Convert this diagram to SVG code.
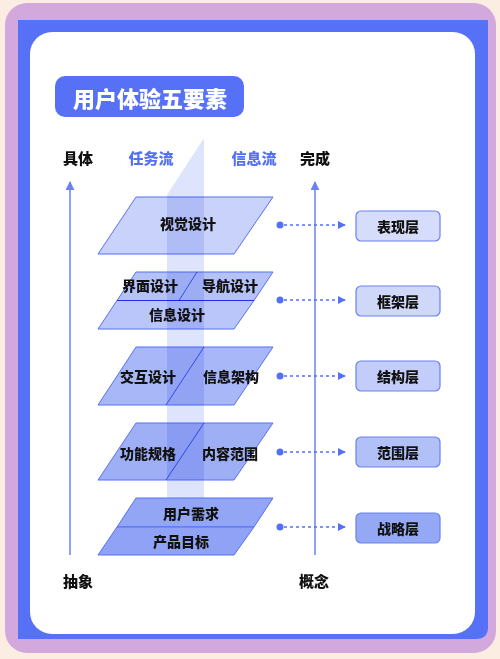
<svg xmlns="http://www.w3.org/2000/svg" width="500" height="659" viewBox="0 0 500 659">
<defs>
<style>
.t{font-family:"Noto Sans CJK SC","Noto Sans",sans-serif;font-weight:900;fill:#111;text-anchor:middle;dominant-baseline:central}
.lbl{font-size:15px}
.blue{fill:#5470F5}
.pg{stroke:#5470F5;stroke-width:1;mix-blend-mode:multiply}
.box{stroke:#6A82F0;stroke-width:1.2}
.ax{stroke:#6A82F0;stroke-width:1.5;fill:none}
.dash{stroke:#5470F5;stroke-width:1.3;stroke-dasharray:3 3;fill:none}
.dot{fill:#5470F5}
</style>
<marker id="ah" viewBox="0 0 10 10" refX="9" refY="5" markerWidth="8" markerHeight="8" markerUnits="userSpaceOnUse" orient="auto">
<path d="M0,0 L10,5 L0,10 Z" fill="#5470F5"/>
</marker>
<marker id="axh" viewBox="0 0 10 10" refX="9" refY="5" markerWidth="9" markerHeight="9" markerUnits="userSpaceOnUse" orient="auto">
<path d="M0,0 L10,5 L0,10 Z" fill="#6A82F0"/>
</marker>
</defs>
<rect width="500" height="659" fill="#FCEDE3"/>
<rect x="5" y="3" width="491" height="650" rx="22" fill="#D3A8DD"/>
<path d="M18,20 H488 V627 Q488,639 476,639 H18 Z" fill="#5671F6"/>
<rect x="30" y="32" width="445" height="602" rx="22" fill="#FFFFFF"/>

<g id="title">
<rect x="55" y="76" width="189" height="41" rx="10" fill="#5671F6"/>
<text class="t" x="150" y="97" style="font-size:22px;fill:#FFFFFF">用户体验五要素</text>
</g>

<g id="labels">
<text class="t lbl" x="78" y="157">具体</text>
<text class="t lbl blue" x="151" y="157">任务流</text>
<text class="t lbl blue" x="254" y="157">信息流</text>
<text class="t lbl" x="315" y="157">完成</text>
<text class="t lbl" x="78" y="580">抽象</text>
<text class="t lbl" x="314" y="580">概念</text>
</g>

<polygon id="beam" points="204,138 204,498 167,498 167,195" fill="#DEE4FB"/>

<g id="layer1">
<polygon class="pg" points="136,197 273,197 234,254 98,254" fill="#C9D2FA"/>
<text class="t" x="188" y="223" font-size="14">视觉设计</text>
</g>
<g id="layer2">
<polygon class="pg" points="136,272 273,272 254,300.5 117,300.5" fill="#B5C2F8"/>
<polygon class="pg" points="117,300.5 254,300.5 234,329 98,329" fill="#BAC6F9"/>
<line class="pg" x1="197" y1="272" x2="179" y2="300.5"/>
<text class="t" x="150" y="285" font-size="14">界面设计</text>
<text class="t" x="230" y="285" font-size="14">导航设计</text>
<text class="t" x="177" y="314" font-size="14">信息设计</text>
</g>
<g id="layer3">
<polygon class="pg" points="136,347 273,347 234,405 98,405" fill="#A8B7F7"/>
<line class="pg" x1="204" y1="347" x2="166" y2="405"/>
<text class="t" x="148" y="376" font-size="14">交互设计</text>
<text class="t" x="231" y="376" font-size="14">信息架构</text>
</g>
<g id="layer4">
<polygon class="pg" points="136,423 273,423 234,480 98,480" fill="#9EAFF6"/>
<line class="pg" x1="204" y1="423" x2="166" y2="480"/>
<text class="t" x="148" y="453" font-size="14">功能规格</text>
<text class="t" x="230" y="453" font-size="14">内容范围</text>
</g>
<g id="layer5">
<polygon class="pg" points="136,498 273,498 254,527 117,527" fill="#93A6F6" style="mix-blend-mode:normal"/>
<polygon class="pg" points="117,527 254,527 234,555 98,555" fill="#8FA2F5" style="mix-blend-mode:normal"/>
<text class="t" x="191" y="513" font-size="14">用户需求</text>
<text class="t" x="181" y="541" font-size="14">产品目标</text>
</g>

<g id="connectors">
<line class="ax" x1="70" y1="555" x2="70" y2="182" marker-end="url(#axh)"/>
<line class="ax" x1="315" y1="555" x2="315" y2="182" marker-end="url(#axh)"/>
<circle class="dot" cx="280" cy="225" r="3.5"/>
<line class="dash" x1="284" y1="225" x2="345" y2="225" marker-end="url(#ah)"/>
<circle class="dot" cx="280" cy="300" r="3.5"/>
<line class="dash" x1="284" y1="300" x2="345" y2="300" marker-end="url(#ah)"/>
<circle class="dot" cx="280" cy="376" r="3.5"/>
<line class="dash" x1="284" y1="376" x2="345" y2="376" marker-end="url(#ah)"/>
<circle class="dot" cx="280" cy="452" r="3.5"/>
<line class="dash" x1="284" y1="452" x2="345" y2="452" marker-end="url(#ah)"/>
<circle class="dot" cx="280" cy="527" r="3.5"/>
<line class="dash" x1="284" y1="527" x2="345" y2="527" marker-end="url(#ah)"/>
</g>

<g id="box1">
<rect class="box" x="356" y="211" width="84" height="30" rx="5" fill="#D6DDFB"/>
<text class="t" x="398" y="226" font-size="14">表现层</text>
</g>
<g id="box2">
<rect class="box" x="356" y="286" width="84" height="30" rx="5" fill="#D0D8FA"/>
<text class="t" x="398" y="301" font-size="14">框架层</text>
</g>
<g id="box3">
<rect class="box" x="356" y="361" width="84" height="30" rx="5" fill="#C2CDF9"/>
<text class="t" x="398" y="376" font-size="14">结构层</text>
</g>
<g id="box4">
<rect class="box" x="356" y="437" width="84" height="30" rx="5" fill="#B2C0F8"/>
<text class="t" x="398" y="452" font-size="14">范围层</text>
</g>
<g id="box5">
<rect class="box" x="356" y="513" width="84" height="30" rx="5" fill="#95A8F5"/>
<text class="t" x="398" y="528" font-size="14">战略层</text>
</g>
</svg>
